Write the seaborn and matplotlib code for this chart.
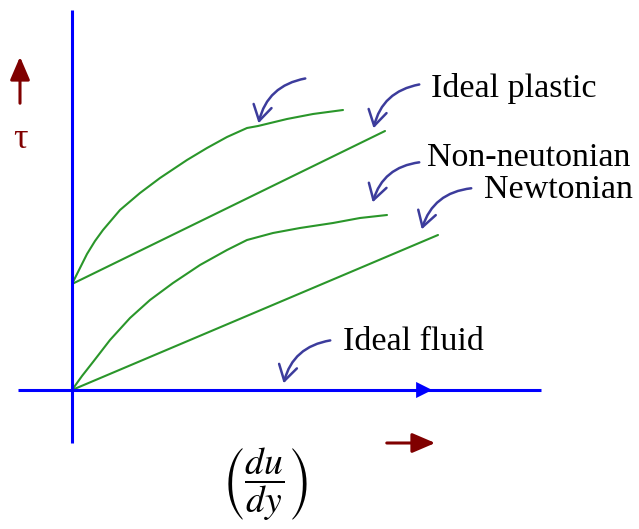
import numpy as np
import pandas as pd
import matplotlib
matplotlib.use("Agg")
import matplotlib.pyplot as plt
import seaborn as sns

# ─────────────────────────────────────────────
# DATA  (shear rate du/dy  →  shear stress tau, arbitrary units)
# ─────────────────────────────────────────────
plastic_curve_x = [0, 8, 15, 23, 31, 48, 68, 88, 115, 135, 155, 175, 186, 215, 241, 271]
plastic_curve_y = [106, 122, 136, 149, 160, 180, 197, 212, 230, 242, 253, 262, 264, 271, 276, 280]

ideal_plastic_x = [0, 313]
ideal_plastic_y = [106, 259]

non_newton_x = [0, 10, 21, 38, 58, 78, 101, 128, 155, 175, 201, 228, 261, 288, 315]
non_newton_y = [0, 14, 28, 50, 72, 90, 107, 125, 140, 150, 157, 162, 167, 172, 175]

newtonian_x = [0, 366]
newtonian_y = [0, 155]

# annotation pointers: (text end -> tip)
pointer_start = [(236, 312), (350, 306), (350, 228), (402, 202), (261, 50)]
pointer_tip = [(186, 264), (301, 259), (300, 185), (349, 158), (211, 4)]

labels = ["Ideal plastic", "Non-neutonian", "Newtonian", "Ideal fluid"]
label_pos = [(359, 302), (355, 232), (412, 200), (271, 48)]

GREEN = "#2a962a"
BLUE = "#0000ff"
POINTER = "#3c3c9c"
DARKRED = "#800000"

sns.set_theme(style="white")
plt.rcParams["font.family"] = ["Liberation Serif", "DejaVu Serif"]

fig = plt.figure(figsize=(6.39, 5.29), dpi=100)
ax = fig.add_axes([0, 0, 1, 1])
ax.set_xlim(-72, 567)
ax.set_ylim(-139, 390)
ax.axis("off")

# ── curves ─────────────────────────────────
curves = [
    (plastic_curve_x, plastic_curve_y),
    (ideal_plastic_x, ideal_plastic_y),
    (non_newton_x, non_newton_y),
    (newtonian_x, newtonian_y),
]
for cx, cy in curves:
    df = pd.DataFrame({"rate": cx, "stress": cy})
    sns.lineplot(data=df, x="rate", y="stress", ax=ax, color=GREEN, lw=1.5,
                 sort=False, estimator=None)

# ── axes lines ─────────────────────────────
ax.plot([0, 0], [-53, 380], color=BLUE, lw=2.2, solid_capstyle="butt")
ax.plot([-54, 469], [0, 0], color=BLUE, lw=2.2, solid_capstyle="butt")
ax.annotate("", xy=(363, 0), xytext=(330, 0),
            arrowprops=dict(arrowstyle="-|>,head_length=0.58,head_width=0.29",
                            color=BLUE, lw=0, mutation_scale=20))

# ── pointers ───────────────────────────────
for (sx, sy), (tx, ty) in zip(pointer_start, pointer_tip):
    ax.annotate("", xy=(tx, ty), xytext=(sx, sy),
                arrowprops=dict(arrowstyle="->,head_length=0.55,head_width=0.33",
                                color=POINTER, lw=1.8, mutation_scale=20,
                                connectionstyle="arc3,rad=0.35"))

for txt, (lx, ly) in zip(labels, label_pos):
    ax.text(lx, ly, txt, fontsize=24.5, color="black", va="center", ha="left")

# ── tau and du/dy ──────────────────────────
ax.annotate("", xy=(-52, 336), xytext=(-52, 284),
            arrowprops=dict(arrowstyle="-|>,head_length=0.7,head_width=0.3",
                            color=DARKRED, lw=2.2, mutation_scale=20))
ax.text(-52, 250, "τ", fontsize=26, color=DARKRED, ha="center", va="center")

ax.annotate("", xy=(366, -53), xytext=(312, -53),
            arrowprops=dict(arrowstyle="-|>,head_length=0.7,head_width=0.3",
                            color=DARKRED, lw=2.2, mutation_scale=20))
ax.text(193, -94, r"$\left(\dfrac{du}{dy}\right)$", fontsize=27, color="black",
        ha="center", va="center", math_fontfamily="stix")

fig.savefig("out.png", dpi=100, facecolor="white")
